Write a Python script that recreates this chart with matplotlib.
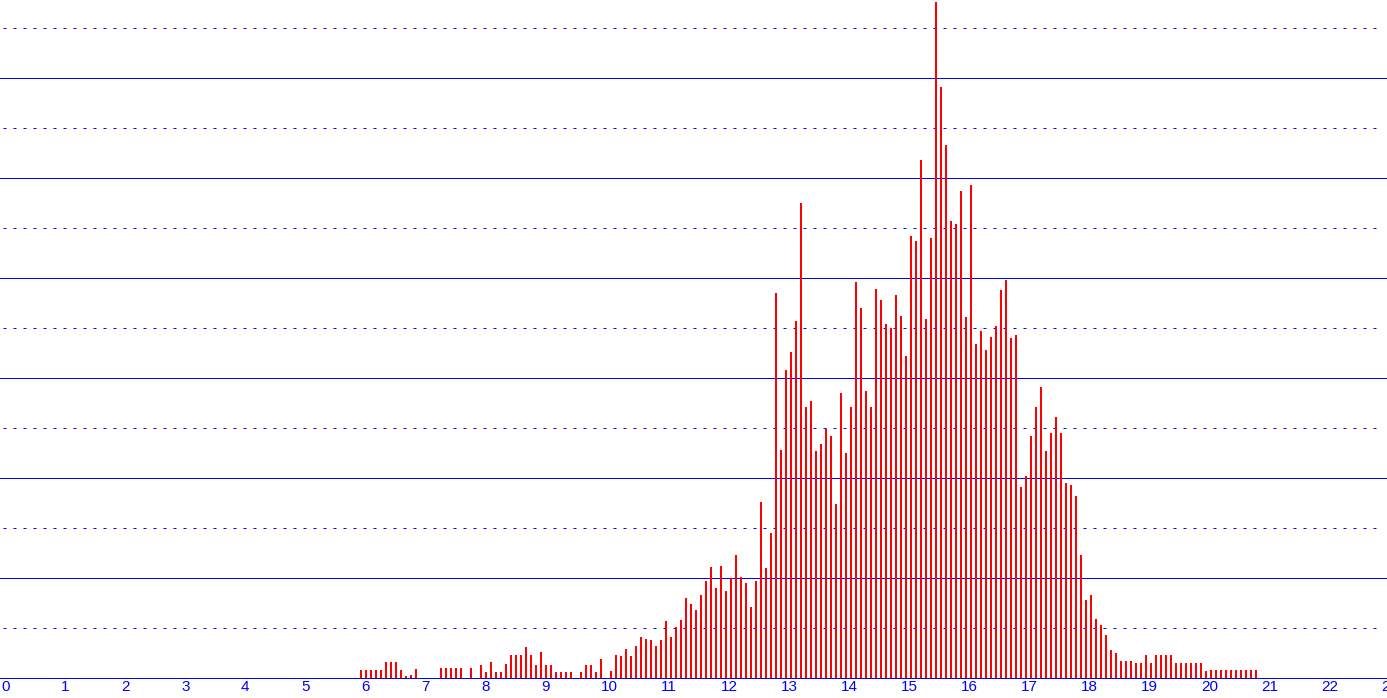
import numpy as np
import matplotlib
matplotlib.use("Agg")
import matplotlib.pyplot as plt

# histogram: bins of 1/12 starting at 6.0, heights
bin_start = 6.0
bin_width = 1 / 12
heights = [
    7.7, 7.7, 7.7, 7.7, 7.7, 15.7, 15.7, 15.7, 7.7, 1.7,
    2.7, 8.7, 0, 0, 0, 0, 9.7, 9.7, 9.7, 9.7,
    9.7, 0, 9.7, 0, 13.3, 6, 16.3, 6, 6, 14.3,
    23.3, 23.3, 23.3, 31.3, 23.3, 13.3, 26.3, 13.3, 13.3, 6,
    6, 6, 6, 0, 6, 13.3, 13.3, 6, 19.3, 0,
    7, 23, 22, 29, 22, 32, 41, 39, 38, 32,
    38, 57, 41, 51, 58, 80, 74, 68, 83, 97,
    111, 90, 112, 87, 100, 123, 101, 95, 71, 97,
    176, 110, 145, 385, 228, 308, 326, 357, 475, 271,
    277, 227, 234, 249, 242, 174, 285, 225, 271, 396,
    370, 287, 271, 389, 378, 354, 350, 383, 362, 322,
    442, 437, 518, 359, 440, 676, 591, 533, 457, 454,
    487, 361, 493, 334, 347, 328, 341, 352, 388, 398,
    340, 343, 191, 202, 242, 271, 291, 227, 245, 261,
    245, 195, 193, 182, 123, 78, 83, 59, 53, 43,
    28, 25, 17, 17, 17, 15, 15, 23, 15, 23,
    23, 23, 23, 15, 15, 15, 15, 15, 15, 7.3,
    8.3, 8.3, 8.3, 8.3, 8.3, 8.3, 8.3, 8.3, 8.3, 8.3,
]
x_ticks = list(range(24))

heights = np.array(heights)
centers = bin_start + np.arange(len(heights)) * bin_width

W, H, DPI = 1387, 698, 100
fig = plt.figure(figsize=(W / DPI, H / DPI), dpi=DPI)
ax = fig.add_axes([0, 20 / H, 1, 678 / H])

px = 1 / 60  # one pixel in x data units
ax.set_xlim(-px, (W - 1) / 60)
ax.set_ylim(0, 678)

lw = 0.72
for y in range(50, 678, 50):
    if y % 100 == 0:
        ax.axhline(y, color="#0000ff", lw=lw, zorder=1)
    else:
        ax.axhline(y, xmin=3 / W, xmax=1380 / W, color="#0000ff", lw=lw,
                   dashes=(3, 7), zorder=1)

ax.bar(centers, heights, width=2 * px, color="#ff0000", linewidth=0,
       antialiased=False, zorder=3)

for s in ["top", "right", "left"]:
    ax.spines[s].set_visible(False)
ax.spines["bottom"].set_color("#0000ff")
ax.spines["bottom"].set_linewidth(lw)

ax.set_yticks([])
ax.set_xticks(x_ticks)
ax.set_xticklabels([str(t) for t in x_ticks], ha="left",
                   fontfamily="Liberation Sans", fontsize=11, color="#0000ff")
ax.tick_params(axis="x", length=0, pad=1.5)

fig.savefig("out.png", dpi=DPI)
